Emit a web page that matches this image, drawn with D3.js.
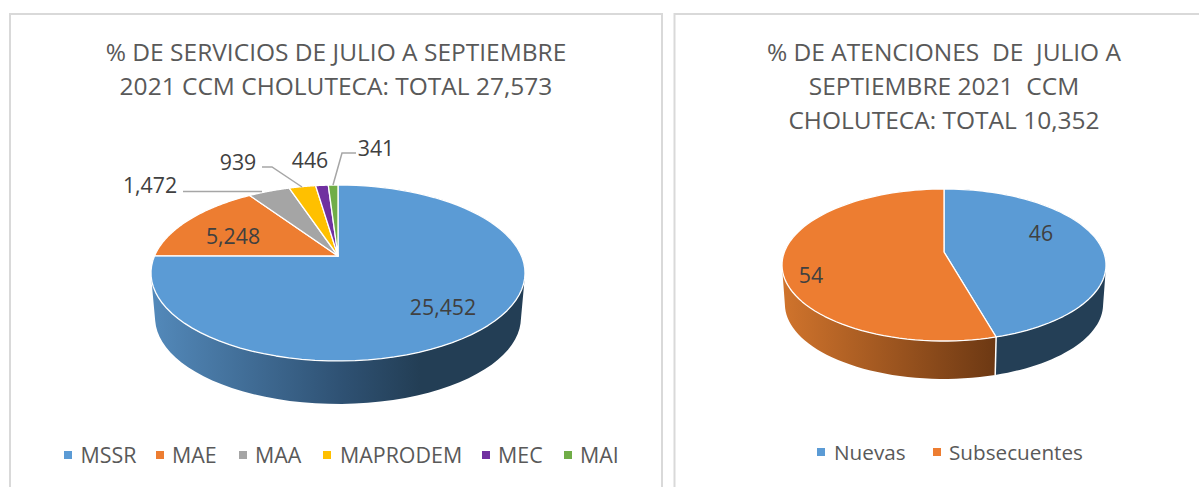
<!DOCTYPE html>
<html><head><meta charset="utf-8">
<style>html,body{margin:0;padding:0;background:#fff;overflow:hidden}svg{display:block}text{font-family:"Open Sans",sans-serif}</style>
<script src="https://cdn.jsdelivr.net/npm/d3@7"></script></head>
<body><svg id="c" width="1199" height="487"></svg>
<script>
const serviciosCategories = ["MSSR","MAE","MAA","MAPRODEM","MEC","MAI"];
const serviciosValues = [25452,5248,1472,939,446,341];
const serviciosColors = ["#5b9bd5","#ed7d31","#a5a5a5","#ffc000","#7030a0","#70ad47"];
const serviciosTitle = ["% DE SERVICIOS DE JULIO A SEPTIEMBRE","2021 CCM CHOLUTECA: TOTAL 27,573"];
const atencionesCategories = ["Nuevas","Subsecuentes"];
const atencionesValues = [45.6,54.4];
const atencionesColors = ["#5b9bd5","#ed7d31"];
const atencionesTitle = ["% DE ATENCIONES  DE  JULIO A","SEPTIEMBRE 2021  CCM","CHOLUTECA: TOTAL 10,352"];

const svg = d3.select("#c");
const defs = svg.append("defs");
const fmt = d3.format(",");
const fmtPct = d3.format(".0f");
const txt = "#404040";

function grad(id, x1, x2, stops){
  const g = defs.append("linearGradient").attr("id",id).attr("gradientUnits","userSpaceOnUse")
    .attr("x1",x1).attr("x2",x2).attr("y1",0).attr("y2",0);
  stops.forEach(s=>g.append("stop").attr("offset",s[0]).attr("stop-color",s[1]));
}
grad("wallBlue",152,420,[[0,"#5389ba"],[0.7,"#2f5274"],[1,"#233e55"]]);
grad("wallOrange",785,997,[[0,"#cf732c"],[1,"#6c3813"]]);

// perspective pie: disc coordinates -> screen
function projector(g){
  return function(theta, lower){
    const u=Math.sin(theta), v=Math.cos(theta), d=1+g.k*v;
    const X=g.a*u/d, Y=-g.b*v/d;
    return lower ? [g.cx+g.s*X, g.yLow+g.s*Y] : [g.cx+X, g.cy+Y];
  };
}
function drawPie(g, values, colors, wallFills){
  const P = projector(g);
  const arcs = d3.pie().sort(null).value(d=>d)(values);
  const line = d3.line();
  const rim = (a0,a1,lower)=>d3.range(0,81).map(i=>P(a0+(a1-a0)*i/80,lower));
  // side walls: one path of same-winding quads so the silhouette stays filled without seams
  arcs.forEach((a,i)=>{
    if(!wallFills[i]) return;
    const top = rim(a.startAngle,a.endAngle,false), low = rim(a.startAngle,a.endAngle,true);
    const d = d3.range(0,80).map(j=>{
      const q=[top[j],top[j+1],low[j+1],low[j]];
      if(d3.polygonArea(q)<0) q.reverse();
      return line(q)+"Z";
    }).join("");
    svg.append("path").attr("d",d).attr("fill",wallFills[i]).attr("fill-rule","nonzero");
  });
  if(g.seam!==undefined){
    const a=arcs[g.seam].endAngle;
    svg.append("path").attr("d",line([P(a,false),P(a,true)])).attr("stroke","#fff").attr("stroke-width",1.5);
  }
  // top faces
  arcs.forEach((a,i)=>{
    const pts=[[g.cx,g.cy]].concat(rim(a.startAngle,a.endAngle,false));
    svg.append("path").attr("d",line(pts)+"Z").attr("fill",colors[i])
      .attr("stroke","#fff").attr("stroke-width",1.3).attr("stroke-linejoin","round");
  });
}
function drawPanel(x0,x1){
  svg.append("path").attr("d",`M${x0},487V14H${x1}V487`).attr("fill","none").attr("stroke","#d9d9d9").attr("stroke-width",2);
}
function drawTitle(lines,cx,y0,dy){
  lines.forEach((t,i)=>svg.append("text").attr("x",cx).attr("y",y0+i*dy).attr("text-anchor","middle")
    .attr("font-size",24.5).attr("fill","#595959").style("white-space","pre").text(t));
}
function drawLegend(items,colors,xs,txs,y,size){
  items.forEach((t,i)=>{
    svg.append("rect").attr("x",xs[i]).attr("y",y-4).attr("width",8).attr("height",8).attr("fill",colors[i]);
    svg.append("text").attr("x",txs[i]).attr("y",y+7.5).attr("font-size",size).attr("fill","#595959").text(t);
  });
}
function lbl(t,x,y){
  svg.append("text").attr("x",x).attr("y",y).attr("text-anchor","middle").attr("font-size",21.3).attr("fill",txt).text(t);
}

drawPanel(10,662); drawPanel(674.5,1210);
drawTitle(serviciosTitle,336,61,34);
drawTitle(atencionesTitle,944,61,34);

drawPie({cx:338,cy:256,a:183.5,b:84.7,k:0.193,s:0.978,yLow:301.3},serviciosValues,serviciosColors,
  ["url(#wallBlue)",null,null,null,null,null]);
drawPie({cx:944,cy:252,a:159.6,b:73.8,k:0.171,s:0.982,yLow:291.5,seam:0},atencionesValues,atencionesColors,
  ["#243f56","url(#wallOrange)"]);

// leader lines
[[[183,191.5],[262,191.5]],[[262,167],[272,167],[302,187]],[[356,153],[342,153],[333,185]]].forEach(p=>
  svg.append("path").attr("d",d3.line()(p)).attr("fill","none").attr("stroke","#a6a6a6").attr("stroke-width",1.5));

// data labels
const labelPos=[[443,315],[233,244],[150,193],[238,170],[310,168],[376,155.5]];
serviciosValues.forEach((v,i)=>lbl(fmt(v),labelPos[i][0],labelPos[i][1]));
const labelPos2=[[1041,241],[811,283]];
atencionesValues.forEach((v,i)=>lbl(fmtPct(v),labelPos2[i][0],labelPos2[i][1]));

drawLegend(serviciosCategories,serviciosColors,[64,156,239,323,482,564],[80.5,172,255,340,498,580],455,21.4);
drawLegend(atencionesCategories,atencionesColors,[817,933],[834,949],452,20.7);
</script></body></html>
